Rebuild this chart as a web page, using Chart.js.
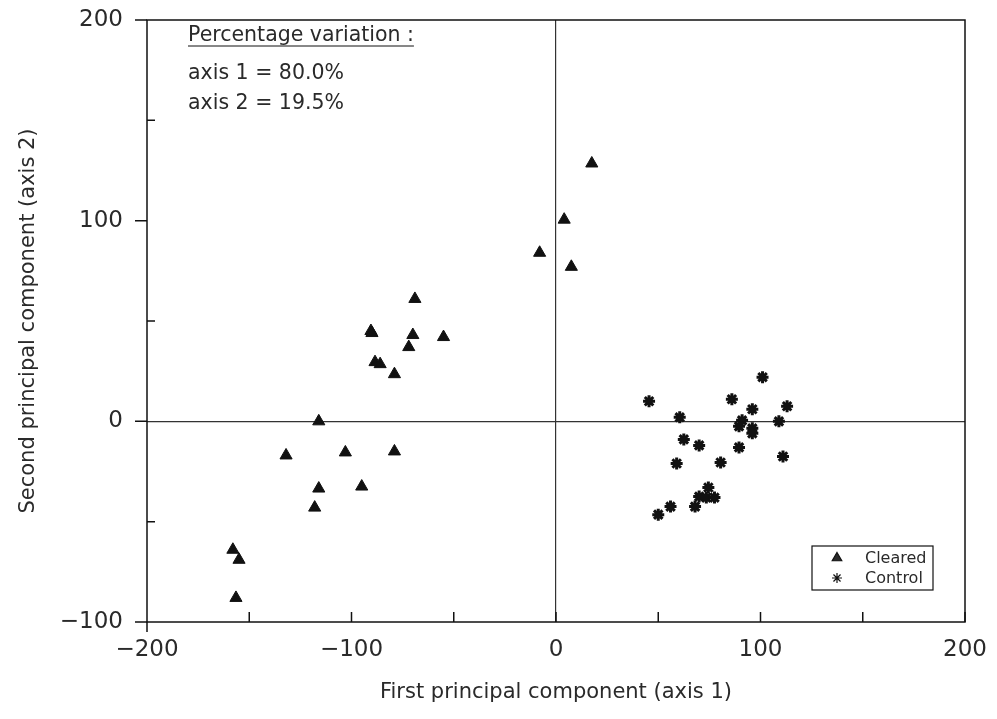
<!DOCTYPE html>
<html>
<head>
<meta charset="utf-8">
<script src="https://cdn.jsdelivr.net/npm/chart.js@4.4.1/dist/chart.umd.min.js"></script>
<style>
  html, body { margin: 0; padding: 0; background: #fff; }
  #wrap { width: 997px; height: 719px; }
</style>
</head>
<body>
<div id="wrap"><canvas id="pcaChart"></canvas></div>
<script>
// cleared plots (triangles): [axis 1, axis 2]
const clearedX = [-69, -90.5, -90, -70, -55, -72, -88.5, -86, -79, -116, -132, -103, -79, -116, -95, -118, -158, -155, -156.5, 17.5, 4, -8, 7.5];
const clearedY = [61, 45, 44, 43, 42, 37, 29.5, 28.5, 23.5, 0, -17, -15.5, -15, -33.5, -32.5, -43, -64, -69, -88, 128.5, 100.5, 84, 77];

// control plots (stars)
const controlX = [45.5, 60.5, 101, 86, 96, 113, 91, 89.5, 96, 96, 109, 62.5, 70, 89.5, 111, 59, 80.5, 74.5, 70, 73.5, 77.5, 68, 56, 50];
const controlY = [10, 2, 22, 11, 6, 7.5, 0.5, -2.5, -3.5, -6, 0, -9, -12, -13, -17.5, -21, -20.5, -33, -37.5, -38, -38, -42.5, -42.5, -46.5];

const xTicks = [-200, -150, -100, -50, 0, 50, 100, 150, 200];
const yTicks = [-100, -50, 0, 50, 100, 150, 200];

const seriesNames = ['Cleared', 'Control'];
const noteLines = ['Percentage variation :', 'axis 1 = 80.0%', 'axis 2 = 19.5%'];

const ink = '#111';
const textInk = '#2a2a2a';
const fontFam = '"DejaVu Sans", "Liberation Sans", sans-serif';

function toPoints(xs, ys) {
    return xs.map((x, i) => ({ x: x, y: ys[i] }));
}
function fmt(v) {
    return v < 0 ? '\u2212' + Math.abs(v) : String(v);
}

// frame, tick marks, note text and legend box
const decorations = {
    id: 'decorations',
    afterDraw(chart) {
        const c = chart.ctx;
        const a = chart.chartArea;
        const xs = chart.scales.x, ys = chart.scales.y;
        c.save();
        c.strokeStyle = ink;
        c.lineWidth = 1.5;
        c.strokeRect(a.left, a.top, a.right - a.left, a.bottom - a.top);

        c.beginPath();
        yTicks.forEach(v => {
            const py = ys.getPixelForValue(v);
            if (v % 100 === 0) { c.moveTo(a.left - 12, py); c.lineTo(a.left, py); }
            else { c.moveTo(a.left, py); c.lineTo(a.left + 8, py); }
        });
        xTicks.forEach(v => {
            const px = xs.getPixelForValue(v);
            if (v === -200) { c.moveTo(px, a.bottom); c.lineTo(px, a.bottom + 10); }
            else { c.moveTo(px, a.bottom); c.lineTo(px, a.bottom - 10); }
        });
        c.stroke();

        // note in the top-left
        c.fillStyle = textInk;
        c.font = '20.5px ' + fontFam;
        c.textBaseline = 'alphabetic';
        c.textAlign = 'left';
        const nx = a.left + 41;
        c.fillText(noteLines[0], nx, a.top + 21);
        const w = c.measureText(noteLines[0]).width;
        c.beginPath();
        c.lineWidth = 1;
        c.moveTo(nx, a.top + 26);
        c.lineTo(nx + w, a.top + 26);
        c.stroke();
        c.fillText(noteLines[1], nx, a.top + 59);
        c.fillText(noteLines[2], nx, a.top + 89);

        // legend box
        const bx = 812, by = 546, bw = 121, bh = 44;
        c.lineWidth = 1.2;
        c.strokeRect(bx, by, bw, bh);
        c.font = '16px ' + fontFam;
        c.textBaseline = 'middle';
        chart.data.datasets.forEach((ds, i) => {
            const ly = by + 12 + i * 20;
            Chart.helpers.drawPoint(c, {
                pointStyle: ds.pointStyle,
                radius: ds.pointStyle === 'triangle' ? 5.5 : 5,
                borderWidth: ds.borderWidth
            }, bx + 25, ly);
            c.fillStyle = textInk;
            c.fillText(ds.label, bx + 53, ly + 1);
        });
        c.restore();
    }
};

const ctx = document.getElementById('pcaChart').getContext('2d');
let pcaChart = new Chart(ctx, {
    type: 'scatter',
    data: {
        datasets: [{
            label: seriesNames[0],
            data: toPoints(clearedX, clearedY),
            pointStyle: 'triangle',
            pointRadius: 7,
            backgroundColor: ink,
            borderColor: ink,
            borderWidth: 1
        }, {
            label: seriesNames[1],
            data: toPoints(controlX, controlY),
            pointStyle: 'star',
            pointRadius: 6,
            backgroundColor: ink,
            borderColor: ink,
            borderWidth: 3
        }]
    },
    plugins: [decorations],
    options: {
        responsive: true,
        maintainAspectRatio: false,
        animation: false,
        layout: { padding: { top: 20, right: 32, left: 0, bottom: 0 } },
        plugins: {
            legend: { display: false },
            tooltip: { enabled: false }
        },
        scales: {
            x: {
                type: 'linear',
                min: -200,
                max: 200,
                afterBuildTicks: s => { s.ticks = xTicks.map(v => ({ value: v })); },
                afterFit: s => { s.height = 97; s.paddingLeft = 0; s.paddingRight = 0; },
                border: { display: false },
                grid: {
                    drawTicks: false,
                    color: c => c.tick && c.tick.value === 0 ? '#333' : 'rgba(0,0,0,0)',
                    lineWidth: 1.2
                },
                ticks: {
                    padding: 14,
                    color: textInk,
                    font: { family: fontFam, size: 23 },
                    callback: v => v % 100 === 0 ? fmt(v) : ''
                },
                title: {
                    display: true,
                    text: 'First principal component (axis 1)',
                    color: textInk,
                    font: { family: fontFam, size: 21 },
                    padding: { top: 4, bottom: 14 }
                }
            },
            y: {
                type: 'linear',
                min: -100,
                max: 200,
                afterBuildTicks: s => { s.ticks = yTicks.map(v => ({ value: v })); },
                afterFit: s => { s.width = 147; s.paddingTop = 0; s.paddingBottom = 0; },
                border: { display: false },
                grid: {
                    drawTicks: false,
                    color: c => c.tick && c.tick.value === 0 ? '#333' : 'rgba(0,0,0,0)',
                    lineWidth: 1.2
                },
                ticks: {
                    padding: 24,
                    color: textInk,
                    font: { family: fontFam, size: 23 },
                    callback: v => v % 100 === 0 ? fmt(v) : ''
                },
                title: {
                    display: true,
                    text: 'Second principal component (axis 2)',
                    color: textInk,
                    font: { family: fontFam, size: 21 },
                    padding: { top: 16, bottom: 0 }
                }
            }
        }
    }
});
</script>
</body>
</html>
